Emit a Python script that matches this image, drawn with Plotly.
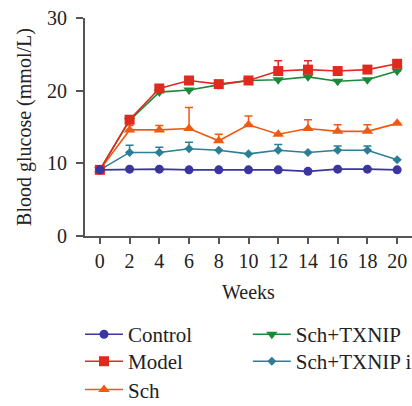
import plotly.graph_objects as go

weeks = [0, 2, 4, 6, 8, 10, 12, 14, 16, 18, 20]
control = [9.1, 9.2, 9.2, 9.1, 9.1, 9.1, 9.1, 8.9, 9.2, 9.2, 9.1]
control_err = [0, 0, 0, 0, 0, 0, 0, 0, 0, 0, 0]
model = [9.1, 16.0, 20.3, 21.4, 20.9, 21.4, 22.7, 22.9, 22.7, 22.9, 23.7]
model_err = [0, 0, 0, 0, 0, 0, 1.4, 1.2, 0, 0, 0]
sch = [9.1, 14.6, 14.6, 14.8, 13.1, 15.3, 14.0, 14.8, 14.4, 14.4, 15.5]
sch_err = [0, 0.6, 0.6, 2.9, 0.9, 1.2, 0, 1.2, 0.9, 0.9, 0]
sch_txnip = [9.1, 15.9, 19.8, 20.1, 20.8, 21.4, 21.5, 21.9, 21.3, 21.5, 22.7]
sch_txnip_err = [0, 0, 0, 0, 0, 0, 0, 0, 0, 0, 0]
sch_txnip_i = [9.1, 11.5, 11.5, 12.0, 11.8, 11.3, 11.8, 11.5, 11.8, 11.8, 10.5]
sch_txnip_i_err = [0, 1.0, 0.7, 0.9, 0, 0, 0.8, 0, 0.6, 0.6, 0]

FONT = "Liberation Serif"
TXT = "#222222"

series = [
    # name, y, err, color, symbol, size, legend id
    ("Sch+TXNIP i", sch_txnip_i, sch_txnip_i_err, "#2A7E96", "diamond", 7, "legend5"),
    ("Sch+TXNIP", sch_txnip, sch_txnip_err, "#1A8A3A", "triangle-down", 10, "legend4"),
    ("Sch", sch, sch_err, "#F05A10", "triangle-up", 10, "legend3"),
    ("Model", model, model_err, "#E02A20", "square", 10, "legend2"),
    ("Control", control, control_err, "#3A35A0", "circle", 9, "legend"),
]

fig = go.Figure()
for name, y, err, color, symbol, size, leg in series:
    fig.add_trace(go.Scatter(
        x=weeks, y=y, name=name, mode="lines+markers",
        line=dict(color=color, width=1.6),
        marker=dict(color=color, symbol=symbol, size=size, line=dict(width=0)),
        error_y=dict(type="data", array=err, arrayminus=[0] * len(err), symmetric=False,
                     color=color, thickness=1.5, width=4, visible=True),
        legend=leg, cliponaxis=False,
    ))

leg_common = dict(yanchor="top", xanchor="left", bgcolor="rgba(0,0,0,0)",
                  tracegroupgap=0, itemwidth=38,
                  font=dict(family=FONT, size=21, color=TXT))
c1, c2 = -0.0153, 0.498
r1, r2, r3 = -0.358, -0.482, -0.612
fig.update_layout(
    width=412, height=406,
    margin=dict(l=85, r=0, t=18, b=170, autoexpand=False),
    paper_bgcolor="white", plot_bgcolor="white",
    font=dict(family=FONT, size=20, color=TXT),
    showlegend=True,
    legend=dict(x=c1, y=r1, **leg_common),
    legend2=dict(x=c1, y=r2, **leg_common),
    legend3=dict(x=c1, y=r3, **leg_common),
    legend4=dict(x=c2, y=r1, **leg_common),
    legend5=dict(x=c2, y=r2, **leg_common),
)
fig.update_xaxes(
    range=[-1, 21], tickvals=weeks, ticktext=[str(w) for w in weeks],
    showline=True, linecolor="#555555", linewidth=2,
    ticks="outside", ticklen=6, tickwidth=1.5, tickcolor="#555555",
    showgrid=False, zeroline=False, automargin=False,
    title=dict(text="Weeks", font=dict(family=FONT, size=20), standoff=14),
    tickfont=dict(family=FONT, size=20),
)
fig.update_yaxes(
    range=[0, 30], tickvals=[0, 10, 20, 30],
    showline=True, linecolor="#555555", linewidth=2,
    ticks="outside", ticklen=7, tickwidth=1.5, tickcolor="#555555",
    showgrid=False, zeroline=False, automargin=False, ticklabelstandoff=5,
    title=dict(text="Blood glucose (mmol/L)", font=dict(family=FONT, size=20), standoff=10),
    tickfont=dict(family=FONT, size=20),
)

fig.write_html("out.html", config={"displayModeBar": False},
               post_script="document.body.style.margin='0';")
